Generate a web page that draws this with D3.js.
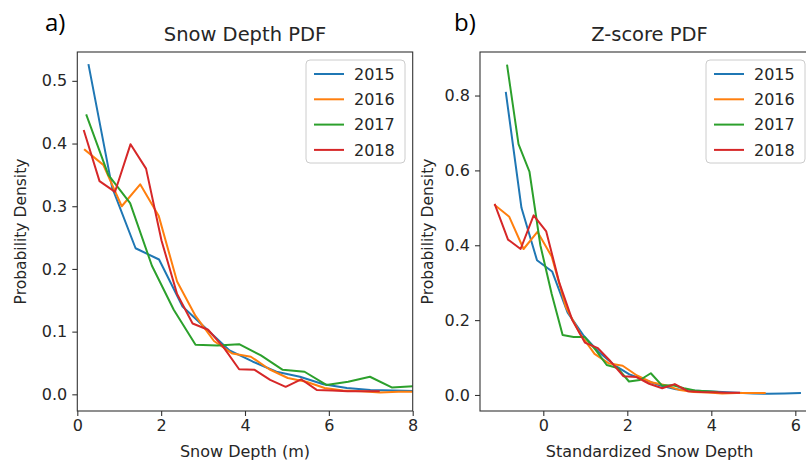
<!DOCTYPE html>
<html>
<head>
<meta charset="utf-8">
<script src="https://cdn.jsdelivr.net/npm/d3@7"></script>
<style>
  html, body { margin: 0; padding: 0; background: #fff; }
  svg { display: block; }
  text { font-family: "DejaVu Sans", sans-serif; fill: #262626; }
</style>
</head>
<body>
<svg id="fig" width="806" height="466"></svg>
<script>
// Years shown in both panels
const years = ["2015", "2016", "2017", "2018"];
const colors = ["#1f77b4", "#ff7f0e", "#2ca02c", "#d62728"];

// Panel a) snow depth PDF (bin centre in metres, density)
const depthX2015 = [0.27, 0.83, 1.39, 1.95, 2.51, 3.07, 3.63, 4.19, 4.75, 5.31, 5.87, 6.43, 6.99, 7.55, 8.11];
const depthY2015 = [0.525, 0.33, 0.233, 0.215, 0.14, 0.105, 0.07, 0.052, 0.036, 0.028, 0.016, 0.01, 0.007, 0.006, 0.005];
const depthX2016 = [0.18, 0.62, 1.06, 1.50, 1.94, 2.38, 2.82, 3.26, 3.70, 4.14, 4.58, 5.02, 5.46, 5.90, 6.34, 6.78, 7.22, 7.66, 8.10];
const depthY2016 = [0.39, 0.366, 0.30, 0.335, 0.285, 0.18, 0.125, 0.085, 0.065, 0.06, 0.04, 0.026, 0.02, 0.01, 0.006, 0.005, 0.003, 0.004, 0.004];
const depthX2017 = [0.22, 0.74, 1.26, 1.78, 2.30, 2.82, 3.34, 3.86, 4.38, 4.90, 5.42, 5.94, 6.46, 6.98, 7.50, 8.02];
const depthY2017 = [0.445, 0.35, 0.305, 0.205, 0.135, 0.079, 0.078, 0.08, 0.062, 0.039, 0.036, 0.015, 0.02, 0.028, 0.011, 0.013];
const depthX2018 = [0.16, 0.53, 0.90, 1.27, 1.64, 2.01, 2.38, 2.75, 3.12, 3.49, 3.86, 4.23, 4.60, 4.97, 5.34, 5.71, 6.08, 6.45, 6.82, 7.19];
const depthY2018 = [0.42, 0.34, 0.323, 0.399, 0.36, 0.245, 0.16, 0.113, 0.103, 0.075, 0.04, 0.039, 0.023, 0.012, 0.024, 0.007, 0.006, 0.005, 0.005, 0.005];

// Panel b) z-score PDF (standardized depth, density)
const zX2015 = [-0.89, -0.52, -0.15, 0.21, 0.58, 0.95, 1.32, 1.69, 2.05, 2.42, 2.79, 3.16, 3.53, 3.90, 4.26, 4.63, 5.00, 5.37, 5.74, 6.11];
const zY2015 = [0.807, 0.50, 0.36, 0.33, 0.22, 0.16, 0.115, 0.08, 0.055, 0.04, 0.025, 0.015, 0.012, 0.01, 0.008, 0.006, 0.004, 0.003, 0.004, 0.005];
const zX2016 = [-1.15, -0.81, -0.47, -0.14, 0.20, 0.54, 0.88, 1.22, 1.55, 1.89, 2.23, 2.57, 2.91, 3.25, 3.58, 3.92, 4.26, 4.60, 4.94, 5.27];
const zY2016 = [0.507, 0.476, 0.39, 0.436, 0.37, 0.234, 0.163, 0.11, 0.085, 0.078, 0.052, 0.034, 0.026, 0.013, 0.008, 0.0065, 0.004, 0.005, 0.005, 0.005];
const zX2017 = [-0.86, -0.59, -0.33, -0.07, 0.20, 0.46, 0.72, 0.98, 1.25, 1.51, 1.77, 2.04, 2.30, 2.56, 2.83, 3.09, 3.35, 3.61, 3.88, 4.14];
const zY2017 = [0.88, 0.67, 0.597, 0.40, 0.27, 0.16, 0.155, 0.155, 0.12, 0.08, 0.072, 0.036, 0.04, 0.058, 0.025, 0.026, 0.018, 0.012, 0.01, 0.008];
const zX2018 = [-1.15, -0.84, -0.54, -0.23, 0.07, 0.38, 0.69, 0.99, 1.30, 1.60, 1.91, 2.22, 2.52, 2.83, 3.13, 3.44, 3.75, 4.05, 4.36, 4.66];
const zY2018 = [0.508, 0.415, 0.39, 0.48, 0.437, 0.30, 0.20, 0.14, 0.125, 0.09, 0.05, 0.048, 0.03, 0.018, 0.029, 0.01, 0.008, 0.007, 0.006, 0.006];

// Tick values
const depthXTicks = [0, 2, 4, 6, 8];
const depthYTicks = [0.0, 0.1, 0.2, 0.3, 0.4, 0.5];
const zXTicks = [0, 2, 4, 6];
const zYTicks = [0.0, 0.2, 0.4, 0.6, 0.8];

const svg = d3.select("#fig");

function panel(opts) {
  const { left, right, top, bottom, xDomain, yDomain, xs, ys, xTicks, yTicks,
          yFmt, title, xLabel, yLabel, yLabelX, tag, tagX, legendX, clipId } = opts;

  const x = d3.scaleLinear().domain(xDomain).range([left, right]);
  const y = d3.scaleLinear().domain(yDomain).range([bottom, top]);

  svg.append("clipPath").attr("id", clipId)
    .append("rect").attr("x", left).attr("y", top)
    .attr("width", right - left).attr("height", bottom - top);

  // data lines
  const line = d3.line().x(d => x(d[0])).y(d => y(d[1]));
  const g = svg.append("g").attr("clip-path", `url(#${clipId})`);
  xs.forEach((xv, i) => {
    const pts = xv.map((v, j) => [v, ys[i][j]]);
    g.append("path").datum(pts)
      .attr("d", line)
      .attr("fill", "none")
      .attr("stroke", colors[i])
      .attr("stroke-width", 2)
      .attr("stroke-linejoin", "round")
      .attr("stroke-linecap", "square");
  });

  // frame
  svg.append("rect")
    .attr("x", left).attr("y", top)
    .attr("width", right - left).attr("height", bottom - top)
    .attr("fill", "none").attr("stroke", "#333").attr("stroke-width", 1.1);

  // axes
  const xAxis = d3.axisBottom(x).tickValues(xTicks).tickFormat(d3.format("d"))
    .tickSize(5).tickPadding(4);
  const gx = svg.append("g").attr("transform", `translate(0,${bottom})`).call(xAxis);
  const yAxis = d3.axisLeft(y).tickValues(yTicks).tickFormat(yFmt)
    .tickSize(5).tickPadding(5);
  const gy = svg.append("g").attr("transform", `translate(${left},0)`).call(yAxis);
  [gx, gy].forEach(a => {
    a.select(".domain").remove();
    a.selectAll(".tick line").attr("stroke", "#333").attr("stroke-width", 1.1);
    a.selectAll(".tick text").attr("font-size", 16).attr("fill", "#262626")
      .attr("font-family", "DejaVu Sans");
  });

  const cx = (left + Math.min(right, 819)) / 2;
  svg.append("text").attr("x", cx).attr("y", 41)
    .attr("text-anchor", "middle").attr("font-size", 19.5).text(title);
  svg.append("text").attr("x", (left + right) / 2).attr("y", 457)
    .attr("text-anchor", "middle").attr("font-size", 16).text(xLabel);
  svg.append("text")
    .attr("transform", `translate(${yLabelX},${(top + bottom) / 2}) rotate(-90)`)
    .attr("text-anchor", "middle").attr("font-size", 15.5).text(yLabel);

  svg.append("text").attr("x", tagX).attr("y", 31)
    .style("font-family", "'Open Sans', sans-serif")
    .style("fill", "#000")
    .attr("font-size", 24).text(tag);

  // legend
  const lg = svg.append("g").attr("transform", `translate(${legendX},${top + 8})`);
  lg.append("rect").attr("x", 0).attr("y", 0).attr("width", 99).attr("height", 103)
    .attr("rx", 4).attr("fill", "#fff").attr("fill-opacity", 0.85)
    .attr("stroke", "#ccc").attr("stroke-width", 1);
  years.forEach((yr, i) => {
    const ry = 14 + i * 25.3;
    lg.append("line").attr("x1", 8).attr("x2", 38).attr("y1", ry).attr("y2", ry)
      .attr("stroke", colors[i]).attr("stroke-width", 2);
    lg.append("text").attr("x", 48).attr("y", ry).attr("dy", "0.36em")
      .attr("font-size", 16).text(yr);
  });
}

panel({
  left: 77.3, right: 412.7, top: 52, bottom: 411,
  xDomain: [0, 8], yDomain: [-0.0266, 0.5460],
  xs: [depthX2015, depthX2016, depthX2017, depthX2018],
  ys: [depthY2015, depthY2016, depthY2017, depthY2018],
  xTicks: depthXTicks, yTicks: depthYTicks, yFmt: d3.format(".1f"),
  title: "Snow Depth PDF", xLabel: "Snow Depth (m)", yLabel: "Probability Density",
  yLabelX: 26, tag: "a)", tagX: 45, legendX: 306, clipId: "clipA"
});

panel({
  left: 480, right: 819.3, top: 52, bottom: 411,
  xDomain: [-1.507, 6.571], yDomain: [-0.0428, 0.9163],
  xs: [zX2015, zX2016, zX2017, zX2018],
  ys: [zY2015, zY2016, zY2017, zY2018],
  xTicks: zXTicks, yTicks: zYTicks, yFmt: d3.format(".1f"),
  title: "Z-score PDF", xLabel: "Standardized Snow Depth", yLabel: "Probability Density",
  yLabelX: 433, tag: "b)", tagX: 454, legendX: 706, clipId: "clipB"
});
</script>
</body>
</html>
